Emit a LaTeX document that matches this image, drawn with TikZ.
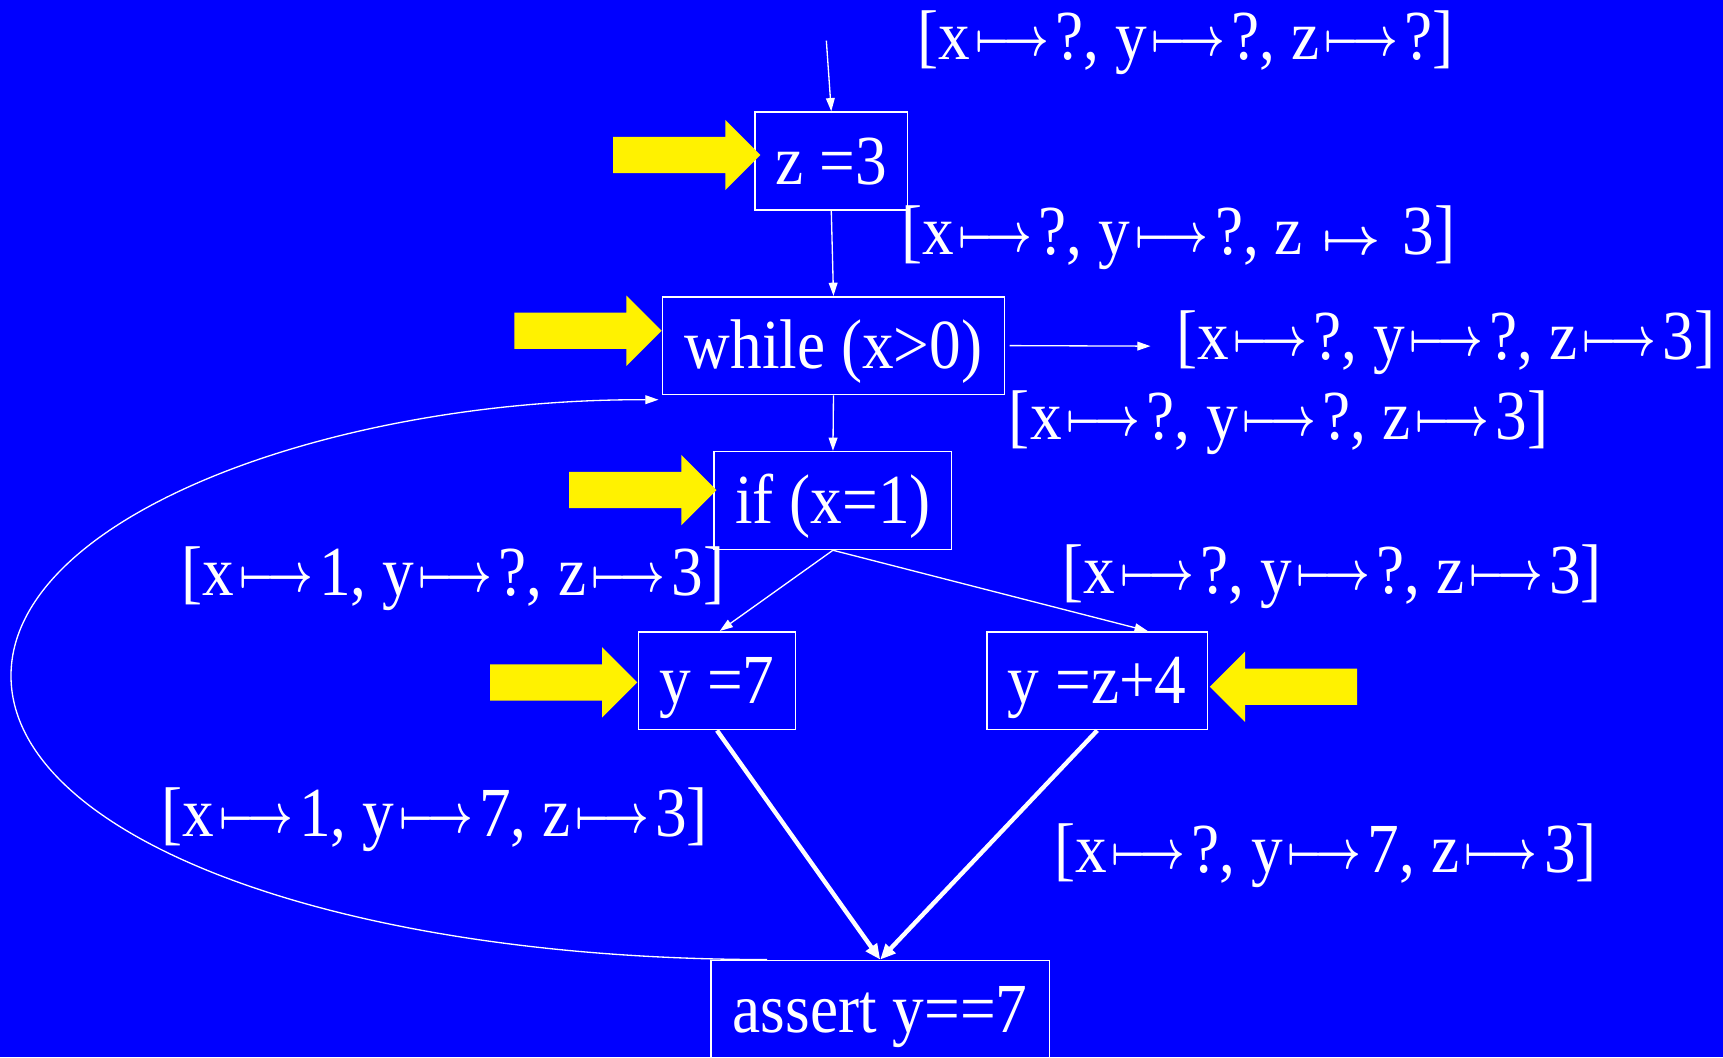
\documentclass[tikz,border=0pt]{standalone}
\usepackage{fontspec}
\setmainfont{Liberation Serif}[FakeStretch=0.9]
\usepackage{graphicx}
\usetikzlibrary{arrows.meta,calc}
\newcommand\mto{\kern4.5pt\raisebox{3.5pt}{\scalebox{3.6}[5]{\fontsize{10}{12}\selectfont\boldmath$\longmapsto$}}\kern6pt}
\newcommand\smto{\kern18pt\raisebox{0pt}{\scalebox{4.6}[4.8]{\fontsize{10}{12}\selectfont\boldmath$\mapsto$}}\kern20pt}
\definecolor{bg}{RGB}{0,0,255}
\begin{document}
\begin{tikzpicture}[x=1pt,y=-1pt,
 box/.style={draw=white, line width=1.5pt, text=white, minimum height=89pt, inner sep=0pt, text height=50pt, text depth=8pt, font=\fontsize{64}{70}\selectfont},
 lab/.style={text=white, anchor=base west, inner sep=0pt, font=\fontsize{64}{70}\selectfont},
 thinarr/.style={draw=white, line width=1.2pt, -{Triangle[width=8pt,length=12pt]}},
 thickarr/.style={draw=white, line width=4pt, -{Triangle[width=12pt,length=14pt]}},
 yarrow/.pic={\fill[yellow] (-134,-16.5) -- (-32,-16.5) -- (-32,-32) -- (0,0) -- (-32,32) -- (-32,16.5) -- (-134,16.5) -- cycle;}
]
\fill[bg] (0,0) rectangle (1568,962);
\useasboundingbox (0,0) rectangle (1568,962);

\node[box, minimum width=139pt] (z3) at (756.5,146.5) {z =3};
\node[box, minimum width=311pt] (wh) at (758.5,314.5) {while (x>0)};
\node[box, minimum width=216pt] (if) at (758,455.5) {if (x=1)};
\node[box, minimum width=143pt] (y7) at (652.5,619.5) {y =7};
\node[box, minimum width=201pt] (yz) at (998.5,619.5) {y =z+4};
\node[box, minimum width=308pt] (as) at (801,918.5) {assert y==7};

\pic at (692,141) {yarrow};
\pic at (602,301) {yarrow};
\pic at (652,446) {yarrow};
\pic at (580,621) {yarrow};
\pic[xscale=-1] at (1101,625) {yarrow};

\node[lab] (l1) at (835,54) {[x\mto?, y\mto?, z\mto?]};
\node[lab] (l2) at (820,232) {[x\mto?, y\mto?, z\smto3]};
\node[lab] (l3) at (1070,327) {[x\mto?, y\mto?, z\mto3]};
\node[lab] (l4) at (918,400) {[x\mto?, y\mto?, z\mto3]};
\node[lab] (l5) at (165,542) {[x\mto1, y\mto?, z\mto3]};
\node[lab] (l6) at (967,540) {[x\mto?, y\mto?, z\mto3]};
\node[lab] (l7) at (147,761) {[x\mto1, y\mto7, z\mto3]};
\node[lab] (l8) at (959,794) {[x\mto?, y\mto7, z\mto3]};

\coordinate (s0) at (752,37);
\coordinate (e0) at (1047,315);
\draw[thinarr] (s0) -- (z3.north);
\draw[thinarr] (z3.south) -- (wh.north);
\draw[thinarr, shorten <=4pt] (wh.east) -- (e0);
\draw[thinarr] (wh.south) -- (if.north);
\draw[thinarr] (if.south) -- ([xshift=2.5pt]y7.north);
\draw[thinarr] (if.south) -- ([xshift=46pt]yz.north);
\draw[thickarr] (y7.south) -- (as.north);
\draw[thickarr] (yz.south) -- (as.north);
\draw[thinarr] ([xshift=-103pt]as.north) .. controls (300,873) and (10,760) .. (10,615) .. controls (10,470) and (300,363) .. ([xshift=-3pt,yshift=-4pt]wh.south west);
\end{tikzpicture}
\end{document}
